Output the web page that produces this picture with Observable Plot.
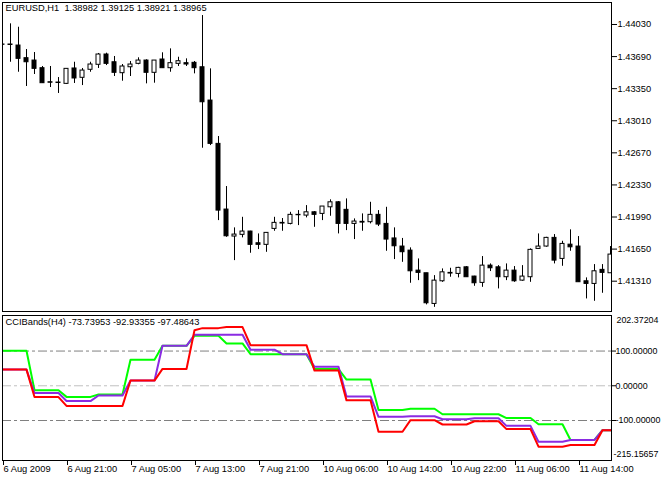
<!DOCTYPE html>
<html><head><meta charset="utf-8">
<script src="https://cdn.jsdelivr.net/npm/d3@7"></script>
<script src="https://cdn.jsdelivr.net/npm/@observablehq/plot@0.6"></script>
<style>
body{margin:0;background:#fff}
#chart{position:relative;width:663px;height:479px;overflow:hidden;background:#fff}
.panel{position:absolute;left:0}
</style>
</head><body><div id="chart"></div>
<script>
// ---- Price data (EURUSD H1), one entry per bar ----
const open = [1.43818,1.43818,1.43807,1.43673,1.43648,1.43567,1.43418,1.43415,1.43401,1.43564,1.43465,1.43550,1.43603,1.43712,1.43630,1.43514,1.43577,1.43613,1.43648,1.43518,1.43659,1.43567,1.43613,1.43620,1.43624,1.43577,1.43224,1.42765,1.42069,1.41783,1.41801,1.41836,1.41712,1.41695,1.41864,1.41928,1.41917,1.42013,1.42005,1.42040,1.42023,1.42093,1.42146,1.42066,1.41917,1.41939,1.41935,1.42013,1.41917,1.41763,1.41677,1.41634,1.41422,1.41394,1.41069,1.41309,1.41398,1.41387,1.41457,1.41359,1.41292,1.41475,1.41457,1.41352,1.41422,1.41316,1.41352,1.41652,1.41677,1.41769,1.41546,1.41697,1.41677,1.41309,1.41281,1.41430,1.41394];
const high = [1.43829,1.44037,1.44001,1.43765,1.43733,1.43585,1.43585,1.43468,1.43560,1.43630,1.43564,1.43630,1.43723,1.43726,1.43691,1.43606,1.43638,1.43677,1.43656,1.43648,1.43730,1.43772,1.43683,1.43666,1.43638,1.44125,1.43560,1.42843,1.42313,1.41875,1.41987,1.41839,1.41811,1.41825,1.41987,1.41974,1.42040,1.42058,1.42111,1.42048,1.42101,1.42172,1.42154,1.42182,1.41970,1.42023,1.42146,1.42058,1.42093,1.41875,1.41763,1.41663,1.41546,1.41394,1.41369,1.41440,1.41447,1.41457,1.41465,1.41362,1.41571,1.41493,1.41475,1.41493,1.41465,1.41475,1.41652,1.41811,1.41775,1.41804,1.41733,1.41854,1.41783,1.41345,1.41486,1.41486,1.41677];
const low = [1.43807,1.43630,1.43524,1.43373,1.43500,1.43405,1.43362,1.43299,1.43394,1.43405,1.43383,1.43524,1.43564,1.43595,1.43479,1.43429,1.43479,1.43603,1.43401,1.43408,1.43567,1.43524,1.43585,1.43585,1.43507,1.42719,1.42747,1.41952,1.41775,1.41528,1.41769,1.41606,1.41645,1.41616,1.41839,1.41839,1.41907,1.41899,1.41981,1.41881,1.41952,1.41998,1.41811,1.41846,1.41751,1.41839,1.41917,1.41889,1.41627,1.41539,1.41510,1.41288,1.41316,1.41059,1.41033,1.41298,1.41352,1.41345,1.41352,1.41256,1.41245,1.41412,1.41228,1.41316,1.41298,1.41309,1.41298,1.41652,1.41670,1.41493,1.41468,1.41627,1.41299,1.41122,1.41097,1.41182,1.41394];
const close = [1.43815,1.43813,1.43666,1.43630,1.43560,1.43408,1.43413,1.43410,1.43560,1.43458,1.43542,1.43606,1.43712,1.43613,1.43518,1.43585,1.43606,1.43648,1.43518,1.43648,1.43567,1.43620,1.43641,1.43606,1.43567,1.43206,1.42765,1.42058,1.41786,1.41804,1.41836,1.41695,1.41695,1.41822,1.41928,1.41921,1.42013,1.42009,1.42040,1.42013,1.42101,1.42146,1.41917,1.41917,1.41942,1.41931,1.42013,1.41910,1.41751,1.41680,1.41617,1.41415,1.41398,1.41076,1.41316,1.41404,1.41391,1.41451,1.41352,1.41288,1.41475,1.41447,1.41352,1.41422,1.41309,1.41359,1.41642,1.41677,1.41769,1.41528,1.41705,1.41669,1.41299,1.41281,1.41415,1.41398,1.41592];

// ---- CCIBands(H4) values, one entry per bar ----
const cciGreen = [101,101,101,101,-13,-13,-13,-13,-32,-32,-32,-32,-25,-25,-25,-25,75,75,75,75,115,115,115,115,144,144,144,144,122,122,122,91,91,91,91,91,91,91,91,48,48,48,48,18,18,18,18,-70,-70,-70,-70,-66,-66,-66,-66,-82,-82,-82,-82,-82,-82,-82,-82,-93,-93,-93,-93,-111,-111,-111,-111,-156,-156,-156,-156,-128,-128];
const cciPurple = [46.6,46.6,46.6,46.6,-21,-21,-21,-21,-44,-44,-44,-44,-28,-28,-28,-28,15,15,15,15,115,115,115,115,147,147,147,147,147,147,147,104,104,104,104,91,91,91,91,55,55,55,55,-30.6,-30.6,-30.6,-30.6,-89.5,-89.5,-89.5,-89.5,-87.7,-87.7,-87.7,-87.7,-96.3,-96.3,-96.3,-96.3,-93.4,-93.4,-93.4,-93.4,-115.4,-115.4,-115.4,-115.4,-161,-161,-161,-161,-156,-156,-156,-156,-128,-128];
const cciRed = [46.6,46.6,46.6,46.6,-32.5,-32.5,-32.5,-32.5,-58,-58,-58,-58,-58,-58,-58,-58,15,15,15,15,48.5,48.5,48.5,48.5,160,166,166,166,169,169,169,117,117,117,117,117,117,117,117,43.7,43.7,43.7,43.7,-42,-42,-42,-42,-132.5,-132.5,-132.5,-132.5,-99,-99,-99,-99,-111.5,-111.5,-111.5,-111.5,-102,-102,-102,-102,-124.8,-124.8,-124.8,-124.8,-175.3,-175.3,-175.3,-175.3,-170.6,-170.6,-170.6,-170.6,-128,-128];

// ---- Axis ticks and labels ----
const priceTicks = [1.44030,1.43690,1.43350,1.43010,1.42670,1.42330,1.41990,1.41650,1.41310];
const cciTicks = [100, 0, -100];
const cciMax = 202.37204, cciMin = -215.15657;
const levelsDark = [100, -100];
const levelsLight = [0];
const timeTicks = [0,8,16,24,32,40,48,56,64,72];
const timeLabels = ["6 Aug 2009","6 Aug 21:00","7 Aug 05:00","7 Aug 13:00","7 Aug 21:00","10 Aug 06:00","10 Aug 14:00","10 Aug 22:00","11 Aug 06:00","11 Aug 14:00"];
const headerText = "EURUSD,H1  1.38982 1.39125 1.38921 1.38965";
const legendText = "CCIBands(H4) -73.73953 -92.93355 -97.48643";

const idx = d3.range(open.length);
const candles = idx.map(i => ({i, o: open[i], h: high[i], l: low[i], c: close[i]}));
const up = candles.filter(d => d.c > d.o);
const down = candles.filter(d => d.c <= d.o);
const cciRows = (arr) => idx.map(i => ({i, v: arr[i]}));

const font = "'Liberation Sans', Arial, sans-serif";
const xDomain = [0, 76.125];
const chart = document.getElementById("chart");

const upper = Plot.plot({
  width: 663, height: 313,
  marginLeft: 2, marginRight: 52, marginTop: 2, marginBottom: 2,
  x: {domain: xDomain, axis: null},
  y: {domain: [1.409888, 1.442631], axis: null},
  style: {fontFamily: font, fontSize: "9px", background: "transparent", color: "black", overflow: "visible"},
  marks: [
    Plot.ruleX(candles, {x: "i", y1: "l", y2: "h", stroke: "black", clip: true}),
    Plot.rect(up, {x1: d => d.i - 0.25, x2: d => d.i + 0.25, y1: "o", y2: "c", fill: "white", stroke: "black", clip: true}),
    Plot.rect(down, {x1: d => d.i - 0.25, x2: d => d.i + 0.25, y1: "o", y2: "c", fill: "black", stroke: "black", clip: true}),
    Plot.axisY(priceTicks, {anchor: "right", label: null, tickSize: 5, tickPadding: 1, tickFormat: d => d.toFixed(5), fontSize: 9.3}),
    Plot.frame({stroke: "black"}),
    Plot.text([headerText], {frameAnchor: "top-left", text: d => d, dx: 3, dy: 1.5, fontSize: 9.3, lineAnchor: "top", textAnchor: "start"})
  ]
});
upper.classList.add("panel");
upper.style.top = "0px";
chart.appendChild(upper);

const lower = Plot.plot({
  width: 663, height: 166,
  marginLeft: 2, marginRight: 52, marginTop: 2, marginBottom: 19,
  x: {domain: xDomain, axis: null},
  y: {domain: [cciMin, cciMax], axis: null},
  style: {fontFamily: font, fontSize: "9px", background: "transparent", color: "black", overflow: "visible"},
  marks: [
    Plot.ruleY(levelsDark, {stroke: "#808080", strokeDasharray: "9,3,3,3"}),
    Plot.ruleY(levelsLight, {stroke: "#c0c0c0", strokeDasharray: "9,3,3,3"}),
    Plot.line(cciRows(cciGreen), {x: "i", y: "v", stroke: "#00ff00", strokeWidth: 2, clip: true}),
    Plot.line(cciRows(cciPurple), {x: "i", y: "v", stroke: "#8a2be2", strokeWidth: 2, clip: true}),
    Plot.line(cciRows(cciRed), {x: "i", y: "v", stroke: "#ff0000", strokeWidth: 2, clip: true}),
    Plot.axisY(cciTicks, {anchor: "right", label: null, tickSize: 4, tickPadding: 0, tickFormat: d => d.toFixed(5), fontSize: 8.9}),
    Plot.text([cciMax], {y: d => d, frameAnchor: "right", text: d => d.toFixed(5), dx: 5, dy: 5, textAnchor: "start", fontSize: 8.9}),
    Plot.text([cciMin], {y: d => d, frameAnchor: "right", text: d => d.toFixed(5), dx: 2, dy: -6, textAnchor: "start", fontSize: 8.9}),
    Plot.axisX(timeTicks, {anchor: "bottom", label: null, tickSize: 5, tickPadding: 0, textAnchor: "start", dx: 1, fontSize: 9.3, tickFormat: d => timeLabels[timeTicks.indexOf(d)]}),
    Plot.frame({stroke: "black"}),
    Plot.text([legendText], {frameAnchor: "top-left", text: d => d, dx: 3, dy: 2.5, fontSize: 9.3, lineAnchor: "top", textAnchor: "start"})
  ]
});
lower.classList.add("panel");
lower.style.top = "313px";
chart.appendChild(lower);
</script>
</body></html>
